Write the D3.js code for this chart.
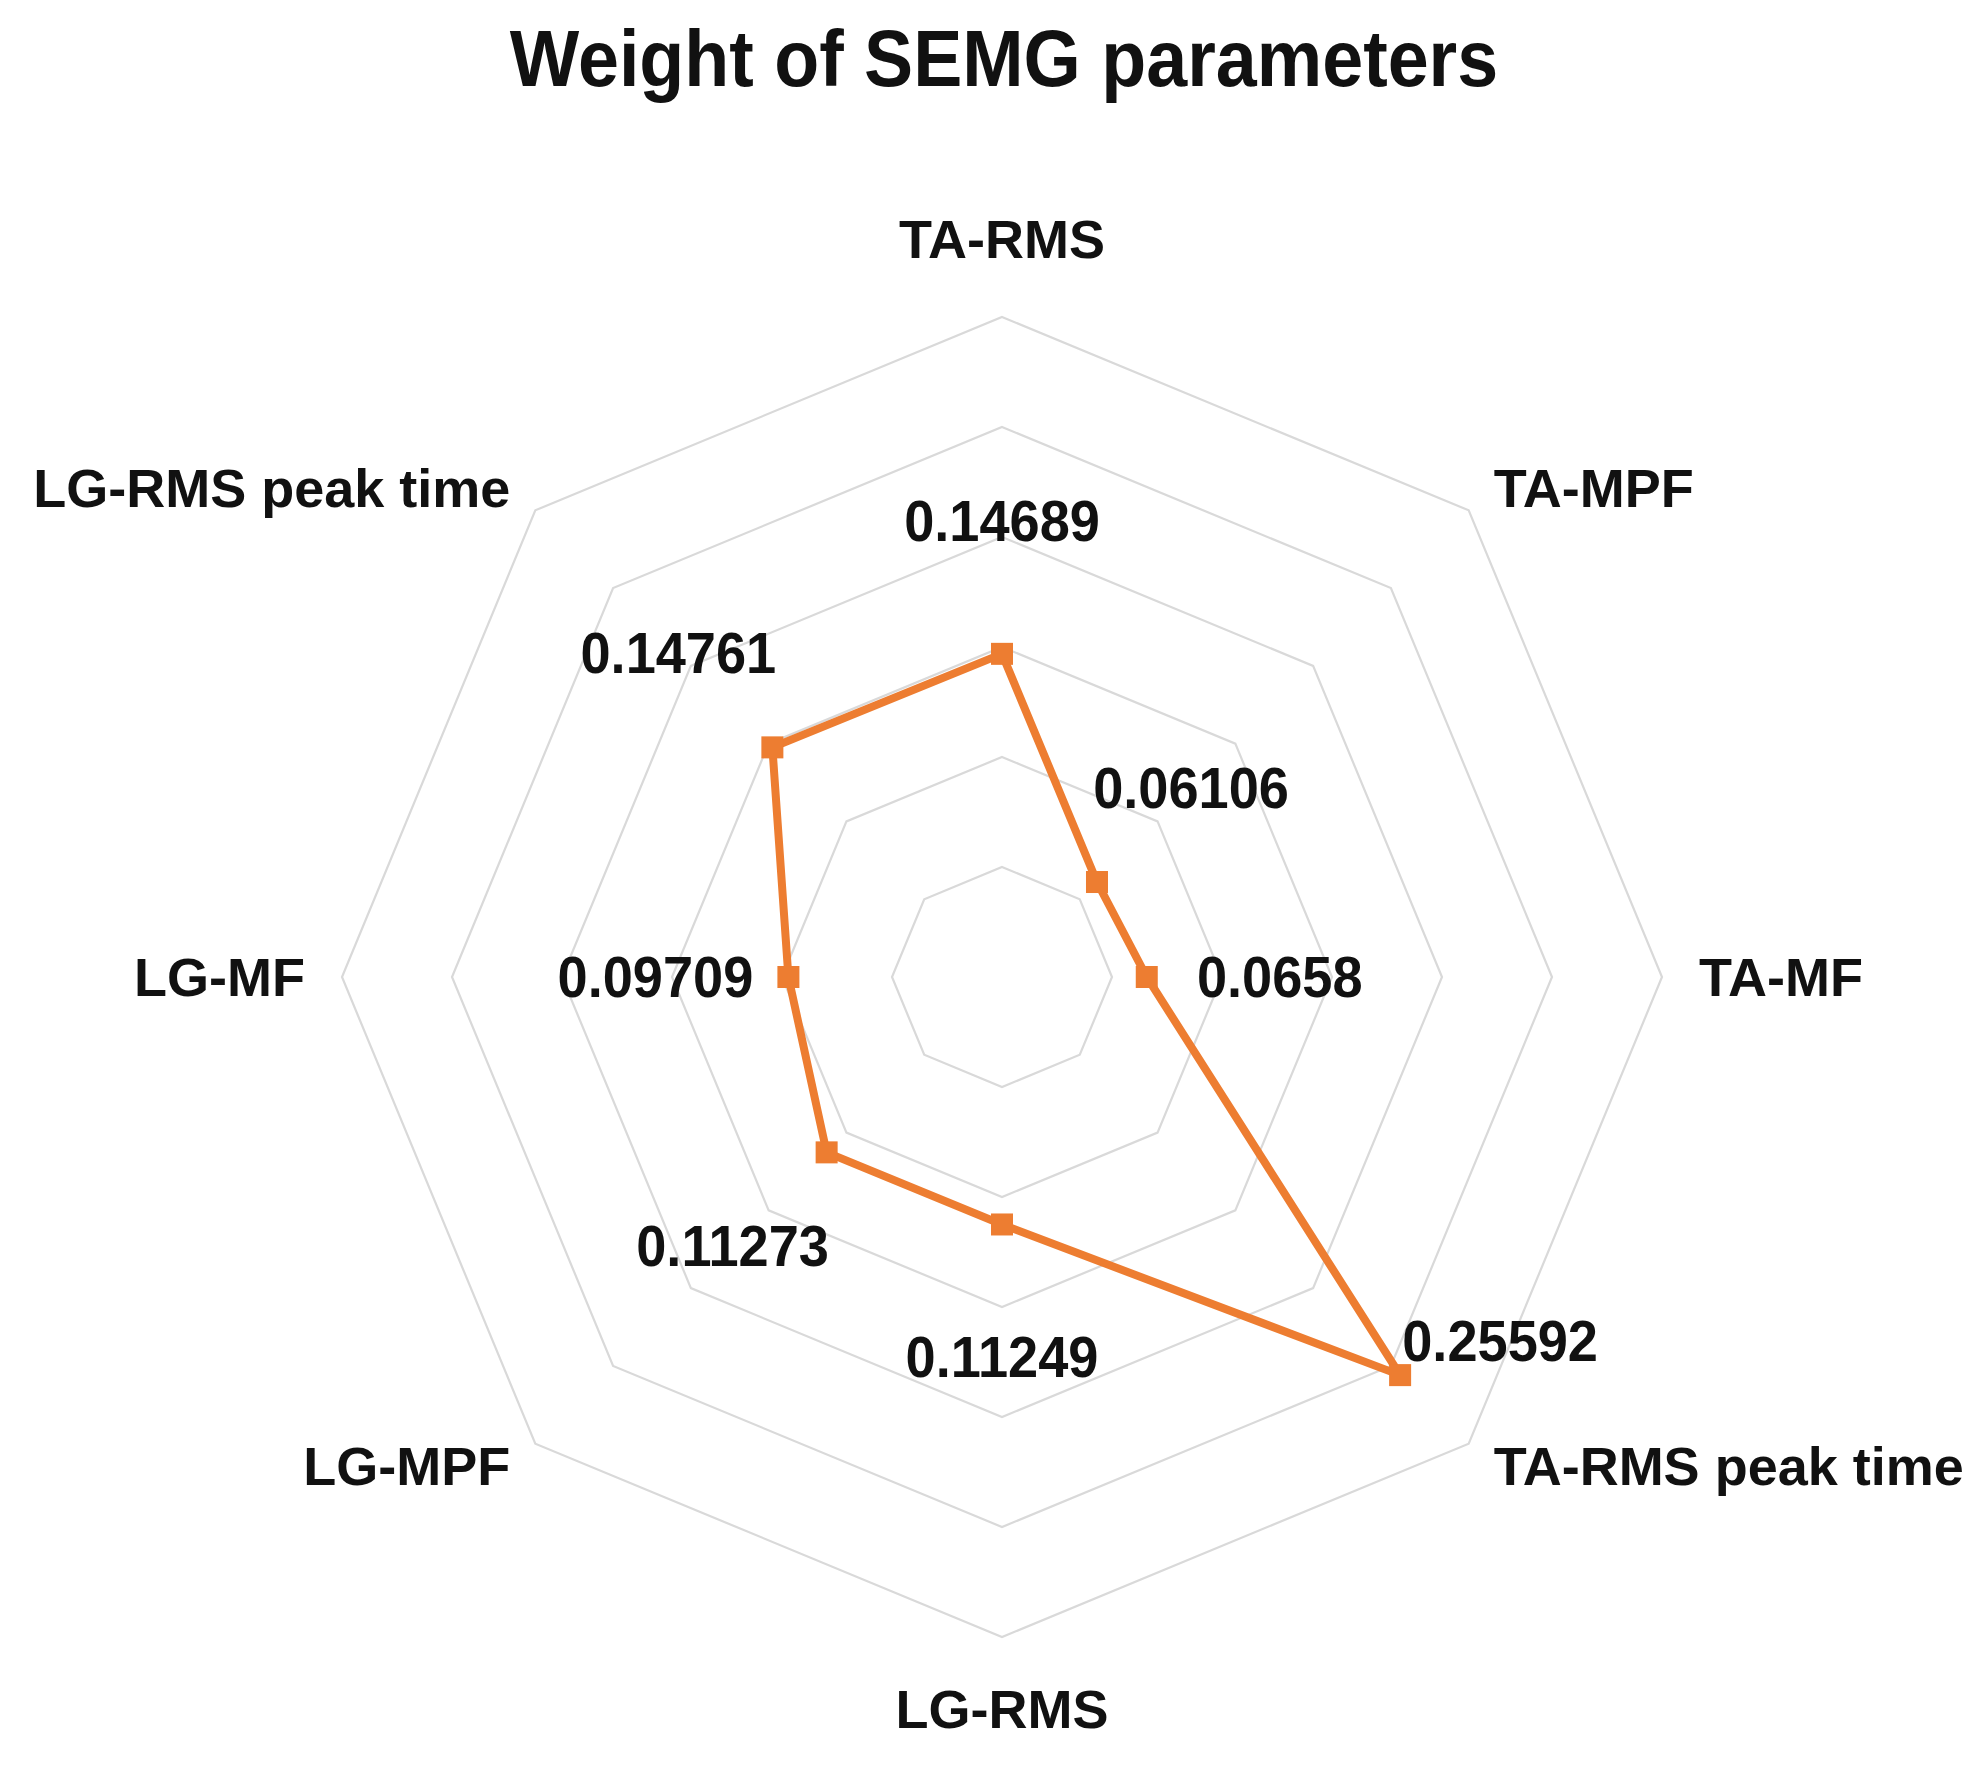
<!DOCTYPE html>
<html>
<head>
<meta charset="utf-8">
<script src="https://cdn.jsdelivr.net/npm/d3@7"></script>
<style>
  html, body { margin: 0; padding: 0; background: #ffffff; }
  svg { display: block; }
  text { font-family: "Liberation Sans", Arial, sans-serif; font-weight: bold; fill: #111; }
</style>
</head>
<body>
<svg id="chart" width="1983" height="1770"></svg>
<script>
// ---- data ----
const title = "Weight of SEMG parameters";
const categories = ["TA-RMS", "TA-MPF", "TA-MF", "TA-RMS peak time", "LG-RMS", "LG-MPF", "LG-MF", "LG-RMS peak time"];
const weights = [0.14689, 0.06106, 0.0658, 0.25592, 0.11249, 0.11273, 0.09709, 0.14761];
const weightLabels = ["0.14689", "0.06106", "0.0658", "0.25592", "0.11249", "0.11273", "0.09709", "0.14761"];
const gridTicks = [0.05, 0.10, 0.15, 0.20, 0.25, 0.30];

// ---- layout ----
const cx = 1002, cy = 977, R = 660;
const orange = "#ED7D31";

const svg = d3.select("#chart");
const g = svg.append("g").attr("transform", `translate(${cx},${cy})`);

const r = d3.scaleLinear().domain([0, 0.30]).range([0, R]);
const angle = d3.scaleLinear().domain([0, categories.length]).range([0, 2 * Math.PI]);

function pt(i, v) {
  const a = angle(i);
  return [r(v) * Math.sin(a), -r(v) * Math.cos(a)];
}

// narrow, tall glyphs like the original font
function condense(sel, f) {
  sel.each(function () {
    const w = this.getComputedTextLength();
    d3.select(this).attr("textLength", w * f).attr("lengthAdjust", "spacingAndGlyphs");
  });
}

// title
svg.append("text")
  .attr("x", 1004).attr("y", 86)
  .attr("text-anchor", "middle")
  .style("font-size", "80px")
  .text(title)
  .call(condense, 0.92);

// grid rings
const ringLine = d3.lineRadial()
  .angle((d, i) => angle(i))
  .radius(d => r(d))
  .curve(d3.curveLinearClosed);

g.append("g").selectAll("path")
  .data(gridTicks)
  .join("path")
  .attr("d", t => ringLine(categories.map(() => t)))
  .attr("fill", "none")
  .attr("stroke", "#d9d9d9")
  .attr("stroke-width", 2.2);

// category labels
g.append("g").selectAll("text")
  .data(categories)
  .join("text")
  .each(function (d, i) {
    const a = angle(i);
    const s = Math.sin(a), c = Math.cos(a);
    const vx = R * s, vy = -R * c;
    let x, y, anchor;
    if (Math.abs(s) < 0.01) {
      x = vx; y = vy - (c > 0 ? 78 : -72); anchor = "middle";
    } else {
      anchor = s > 0 ? "start" : "end";
      x = vx + Math.sign(s) * (Math.abs(c) > 0.01 ? 25 : 37);
      y = vy - c * 31;
    }
    d3.select(this)
      .attr("x", x).attr("y", y)
      .attr("text-anchor", anchor)
      .attr("dominant-baseline", "central")
      .style("font-size", "54px")
      .text(d);
  });

// data line
const dataLine = d3.lineRadial()
  .angle((d, i) => angle(i))
  .radius(d => r(d))
  .curve(d3.curveLinearClosed);

g.append("path")
  .attr("d", dataLine(weights))
  .attr("fill", "none")
  .attr("stroke", orange)
  .attr("stroke-width", 8)
  .attr("stroke-linejoin", "miter");

// markers
const ms = 22;
g.append("g").selectAll("rect")
  .data(weights)
  .join("rect")
  .attr("x", (d, i) => pt(i, d)[0] - ms / 2)
  .attr("y", (d, i) => pt(i, d)[1] - ms / 2)
  .attr("width", ms).attr("height", ms)
  .attr("fill", orange);

// value labels
g.append("g").selectAll("text")
  .data(weights)
  .join("text")
  .each(function (d, i) {
    const [px, py] = pt(i, d);
    const a = angle(i);
    let x = px + 133 * Math.sin(a), y = py - 133 * Math.cos(a);
    if (i === 3) { x = px + 100; y = py - 34; }
    d3.select(this)
      .attr("x", x).attr("y", y)
      .attr("text-anchor", "middle")
      .attr("dominant-baseline", "central")
      .style("font-size", "57px")
      .text(weightLabels[i]);
  })
  .call(condense, 0.95);
</script>
</body>
</html>
